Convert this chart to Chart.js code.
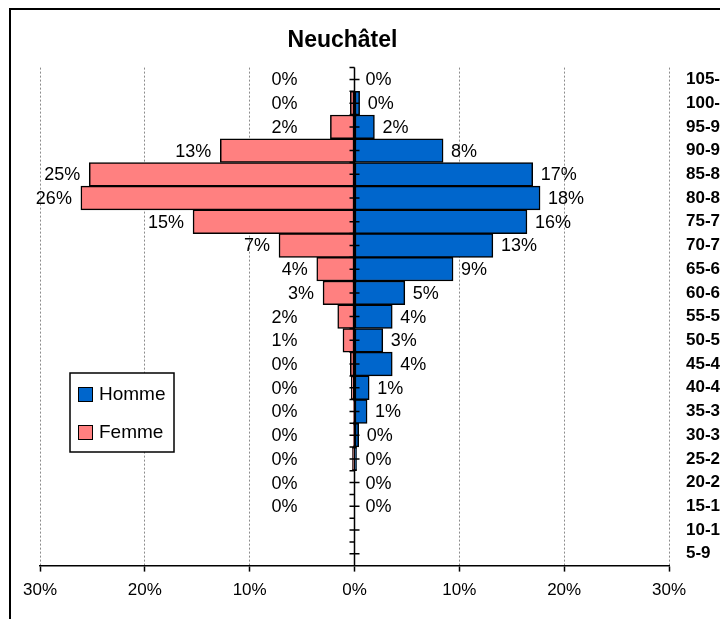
<!DOCTYPE html>
<html>
<head>
<meta charset="utf-8">
<title>Neuchâtel</title>
<script src="https://cdn.jsdelivr.net/npm/chart.js@4.4.1/dist/chart.umd.min.js"></script>
<style>
  html, body { margin: 0; padding: 0; background: #fff; overflow: hidden; }
  #wrap { position: relative; width: 720px; height: 619px; }
</style>
</head>
<body>
<div id="wrap"><canvas id="chart-pyramid"></canvas></div>
<script>
const ageGroups = ['105-109', '100-104', '95-99', '90-94', '85-89', '80-84', '75-79', '70-74', '65-69', '60-64',
  '55-59', '50-54', '45-49', '40-44', '35-39', '30-34', '25-29', '20-24', '15-19', '10-14', '5-9'];

// share of each age group, in %
const hommeShare = [0, 0.49, 1.9, 8.45, 17.0, 17.7, 16.45, 13.2, 9.4, 4.8,
  3.6, 2.7, 3.6, 1.4, 1.2, 0.4, 0.2, 0, 0, null, null];
const femmeShare = [0, 0.4, 2.3, 12.8, 25.3, 26.1, 15.4, 7.2, 3.6, 3.0,
  1.6, 1.1, 0.4, 0.3, 0.1, 0.1, 0.2, 0, 0, null, null];

const axisMin = -30;
const axisMax = 30;
const axisStep = 10;

const FONT = '"Liberation Sans", Arial, sans-serif';
const BLUE = '#0066CC';
const PINK = '#FF8080';

Chart.defaults.font.family = FONT;
Chart.defaults.color = '#000';

// outer chart frame (only left and top edges are inside the picture)
const framePlugin = {
  id: 'frame',
  beforeDraw(chart) {
    const { ctx, width, height } = chart;
    ctx.save();
    ctx.fillStyle = '#fff';
    ctx.fillRect(0, 0, width, height);
    ctx.strokeStyle = '#000';
    ctx.lineWidth = 2;
    ctx.beginPath();
    ctx.moveTo(10, height);
    ctx.lineTo(10, 9);
    ctx.lineTo(width, 9);
    ctx.stroke();
    ctx.restore();
  },
};

// title sits a little left of the plot centre
const titleShiftPlugin = {
  id: 'titleShift',
  afterLayout(chart) {
    const t = chart.titleBlock;
    if (!t) return;
    t.left -= 12;
    t.right -= 12;
  },
};

// vertical black axis at 0 with its tick marks
const centerAxisPlugin = {
  id: 'centerAxis',
  afterDatasetsDraw(chart) {
    const { ctx, chartArea, scales: { x, y } } = chart;
    const x0 = x.getPixelForValue(0);
    const band = y.getPixelForValue(1) - y.getPixelForValue(0);
    ctx.save();
    ctx.strokeStyle = '#000';
    ctx.lineWidth = 1.5;
    ctx.beginPath();
    ctx.moveTo(x0, chartArea.top);
    ctx.lineTo(x0, chartArea.bottom);
    ageGroups.forEach((group, i) => {
      const yc = y.getPixelForValue(i);
      ctx.moveTo(x0 - 5, yc);
      ctx.lineTo(x0 + 5, yc);
      const yb = yc - band / 2;
      ctx.moveTo(x0 - 5, yb);
      ctx.lineTo(x0, yb);
    });
    ctx.stroke();
    ctx.restore();
  },
};

// percentage labels next to the bars
const barLabelPlugin = {
  id: 'barLabels',
  afterDatasetsDraw(chart) {
    const { ctx } = chart;
    const x0 = chart.scales.x.getPixelForValue(0);
    ctx.save();
    ctx.font = '18px ' + FONT;
    ctx.fillStyle = '#000';
    ctx.textBaseline = 'middle';
    chart.data.datasets.forEach((dataset, di) => {
      const meta = chart.getDatasetMeta(di);
      meta.data.forEach((bar, i) => {
        const value = dataset.data[i];
        if (value === null || value === undefined) return;
        const text = Math.round(Math.abs(value)) + '%';
        const yText = bar.y + 1;
        if (dataset.label === 'Femme') {
          const len = x0 - bar.x;
          ctx.textAlign = 'right';
          ctx.fillText(text, len > 25 ? bar.x - 9 : x0 - 57, yText);
        } else {
          ctx.textAlign = 'left';
          ctx.fillText(text, Math.max(bar.x + 8, x0 + 11), yText);
        }
      });
    });
    ctx.restore();
  },
};

// boxed legend inside the plot, lower left
const boxLegendPlugin = {
  id: 'boxLegend',
  afterDraw(chart) {
    const { ctx } = chart;
    ctx.save();
    ctx.fillStyle = '#fff';
    ctx.fillRect(70, 373, 104, 79);
    ctx.strokeStyle = '#000';
    ctx.lineWidth = 1.5;
    ctx.strokeRect(70, 373, 104, 79);
    ctx.font = '19px ' + FONT;
    ctx.textAlign = 'left';
    ctx.textBaseline = 'middle';
    chart.data.datasets.forEach((dataset, i) => {
      const top = 387 + i * 38;
      ctx.fillStyle = dataset.backgroundColor;
      ctx.fillRect(78, top, 14, 14);
      ctx.lineWidth = 1;
      ctx.strokeRect(78.5, top + 0.5, 14, 14);
      ctx.fillStyle = '#000';
      ctx.fillText(dataset.label, 99, top + 8);
    });
    ctx.restore();
  },
};

const ctx = document.getElementById('chart-pyramid').getContext('2d');
new Chart(ctx, {
  type: 'bar',
  data: {
    labels: ageGroups,
    datasets: [
      {
        label: 'Homme',
        data: hommeShare,
        backgroundColor: BLUE,
        borderColor: '#000',
        borderWidth: 1.5,
        borderSkipped: false,
        categoryPercentage: 1,
        barPercentage: 1,
      },
      {
        label: 'Femme',
        data: femmeShare.map(v => (v === null ? null : -v)),
        backgroundColor: PINK,
        borderColor: '#000',
        borderWidth: 1.5,
        borderSkipped: false,
        categoryPercentage: 1,
        barPercentage: 1,
      },
    ],
  },
  options: {
    responsive: true,
    maintainAspectRatio: false,
    animation: false,
    indexAxis: 'y',
    layout: { padding: { left: 40, right: 0, top: 0, bottom: 9 } },
    plugins: {
      legend: { display: false },
      tooltip: { enabled: false },
      title: {
        display: true,
        text: 'Neuchâtel',
        fullSize: false,
        color: '#000',
        font: { size: 23, weight: 'bold' },
        padding: { top: 27, bottom: 13 },
      },
    },
    scales: {
      x: {
        stacked: true,
        min: axisMin,
        max: axisMax,
        ticks: {
          stepSize: axisStep,
          color: '#000',
          padding: 9,
          font: { size: 17 },
          callback: value => Math.abs(value) + '%',
        },
        grid: { color: '#8c8c8c', lineWidth: 1, tickColor: '#000', tickLength: 6, tickWidth: 1.5 },
        border: { display: true, color: '#000', width: 1.5, dash: [2, 2] },
      },
      y: {
        stacked: true,
        position: 'right',
        grid: { display: false, drawTicks: false },
        border: { display: false },
        ticks: { color: '#000', autoSkip: false, padding: 17, font: { size: 17, weight: 'bold' } },
        afterFit: scale => { scale.width = 51; },
      },
    },
  },
  plugins: [framePlugin, titleShiftPlugin, centerAxisPlugin, barLabelPlugin, boxLegendPlugin],
});
</script>
</body>
</html>
